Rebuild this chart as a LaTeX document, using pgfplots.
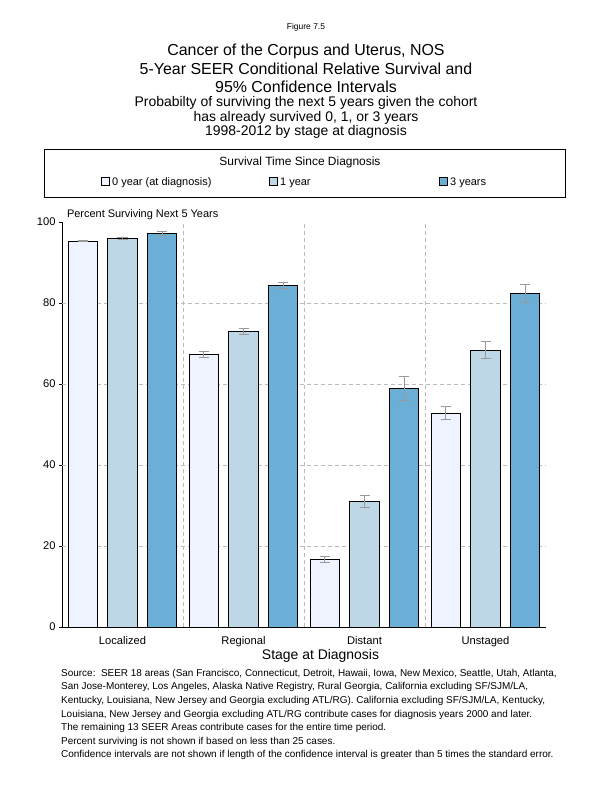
\documentclass[border=0pt]{standalone}
\usepackage{fontspec}
\setmainfont{Liberation Sans}
\usepackage{pgfplots}
\pgfplotsset{compat=1.18}

\definecolor{yr0}{HTML}{EFF3FF}
\definecolor{yr1}{HTML}{BDD7E7}
\definecolor{yr3}{HTML}{6BAED6}
\definecolor{ebar}{HTML}{999999}
\definecolor{gridc}{HTML}{BBBBBB}

% x: 0 Localized, 1 Regional, 2 Distant, 3 Unstaged
\pgfplotstableread{
x y err
0 95.3 0.2
1 67.3 0.7
2 16.7 0.7
3 52.8 1.6
}\yearzero
\pgfplotstableread{
x y err
0 96.0 0.3
1 73.0 0.75
2 31.0 1.5
3 68.3 2.1
}\yearone
\pgfplotstableread{
x y err
0 97.2 0.5
1 84.4 0.8
2 58.9 2.9
3 82.4 2.2
}\yearthree

\tikzset{gridln/.style={gridc, dash pattern=on 4bp off 3bp, line width=0.7bp}}

\begin{document}
\begin{tikzpicture}
\useasboundingbox (0,0) rectangle (612bp,-792bp);

\begin{axis}[
    at={(62bp,-627bp)}, anchor=south west,
    scale only axis, width=484bp, height=405bp,
    xmin=-0.5, xmax=3.5, ymin=0, ymax=100,
    axis lines*=left,
    axis line style={black, line width=0.8bp},
    ytick={0,20,...,100},
    xtick={0,1,2,3},
    xticklabels={Localized,Regional,Distant,Unstaged},
    tick align=outside, major tick length=3bp,
    x tick style={draw=none},
    y tick style={black, line width=0.6bp},
    tick label style={font=\fontsize{11.2}{13}\selectfont},
    /pgf/number format/assume math mode=true,
    xticklabel style={yshift=-2.5bp},
    ybar, bar width=0.24,
    clip=false,
    error bars/y dir=both, error bars/y explicit,
    error bars/error bar style={ebar, line width=0.8bp},
    error bars/error mark options={rotate=90, ebar, mark size=5bp, line width=0.8bp},
]
\draw[gridln] (axis cs:-0.5,20) -- (axis cs:3.5,20);
\draw[gridln] (axis cs:-0.5,40) -- (axis cs:3.5,40);
\draw[gridln] (axis cs:-0.5,60) -- (axis cs:3.5,60);
\draw[gridln] (axis cs:-0.5,80) -- (axis cs:3.5,80);
\draw[gridln] (axis cs:0.5,0) -- (axis cs:0.5,100);
\draw[gridln] (axis cs:1.5,0) -- (axis cs:1.5,100);
\draw[gridln] (axis cs:2.5,0) -- (axis cs:2.5,100);

\addplot[fill=yr0, draw=black, line width=1bp, bar shift=-0.33] table[x=x, y=y, y error=err] {\yearzero};
\addplot[fill=yr1, draw=black, line width=1bp, bar shift=0] table[x=x, y=y, y error=err] {\yearone};
\addplot[fill=yr3, draw=black, line width=1bp, bar shift=0.33] table[x=x, y=y, y error=err] {\yearthree};

\node[anchor=base west, font=\fontsize{11}{13}\selectfont, inner sep=0pt] at (rel axis cs:0.01,1.01) {Percent Surviving Next 5 Years};
\end{axis}

% titles
\node[anchor=base, font=\fontsize{8.5}{10}\selectfont, inner sep=0pt] at (306bp,-29bp) {Figure 7.5};
\node[anchor=base, font=\fontsize{16}{18}\selectfont, inner sep=0pt] at (306bp,-55bp) {Cancer of the Corpus and Uterus, NOS};
\node[anchor=base, font=\fontsize{16}{18}\selectfont, inner sep=0pt] at (306bp,-74bp) {5-Year SEER Conditional Relative Survival and};
\node[anchor=base, font=\fontsize{16}{18}\selectfont, inner sep=0pt] at (306bp,-92bp) {95\% Confidence Intervals};
\node[anchor=base, font=\fontsize{14}{15}\selectfont, inner sep=0pt] at (306bp,-106bp) {Probabilty of surviving the next 5 years given the cohort};
\node[anchor=base, font=\fontsize{14}{15}\selectfont, inner sep=0pt] at (306bp,-121bp) {has already survived 0, 1, or 3 years};
\node[anchor=base, font=\fontsize{14}{15}\selectfont, inner sep=0pt] at (306bp,-135bp) {1998-2012 by stage at diagnosis};

% legend
\draw[black, line width=0.8bp] (44bp,-149bp) rectangle (565bp,-197bp);
\node[anchor=base, font=\fontsize{12}{14}\selectfont, inner sep=0pt] at (300bp,-165bp) {Survival Time Since Diagnosis};
\draw[black, line width=0.6bp, fill=yr0] (101bp,-177.5bp) rectangle (109bp,-185.5bp);
\node[anchor=base west, font=\fontsize{11}{13}\selectfont, inner sep=0pt] at (112bp,-185.5bp) {0 year (at diagnosis)};
\draw[black, line width=0.6bp, fill=yr1] (269bp,-177.5bp) rectangle (277bp,-185.5bp);
\node[anchor=base west, font=\fontsize{11}{13}\selectfont, inner sep=0pt] at (280bp,-185.5bp) {1 year};
\draw[black, line width=0.6bp, fill=yr3] (439bp,-177.5bp) rectangle (447bp,-185.5bp);
\node[anchor=base west, font=\fontsize{11}{13}\selectfont, inner sep=0pt] at (450bp,-185.5bp) {3 years};

% x label
\node[anchor=base, font=\fontsize{14}{16}\selectfont, inner sep=0pt] at (320.5bp,-659bp) {Stage at Diagnosis};

% footnote
\node[anchor=north west, align=left, font=\fontsize{10}{13.6}\selectfont, inner sep=0pt] at (61bp,-669bp) {%
Source:\ \ SEER 18 areas (San Francisco, Connecticut, Detroit, Hawaii, Iowa, New Mexico, Seattle, Utah, Atlanta,\\
San Jose-Monterey, Los Angeles, Alaska Native Registry, Rural Georgia, California excluding SF/SJM/LA,\\
Kentucky, Louisiana, New Jersey and Georgia excluding ATL/RG). California excluding SF/SJM/LA, Kentucky,\\
Louisiana, New Jersey and Georgia excluding ATL/RG contribute cases for diagnosis years 2000 and later.\\
The remaining 13 SEER Areas contribute cases for the entire time period.\\
Percent surviving is not shown if based on less than 25 cases.\\
Confidence intervals are not shown if length of the confidence interval is greater than 5 times the standard error.};
\end{tikzpicture}
\end{document}
